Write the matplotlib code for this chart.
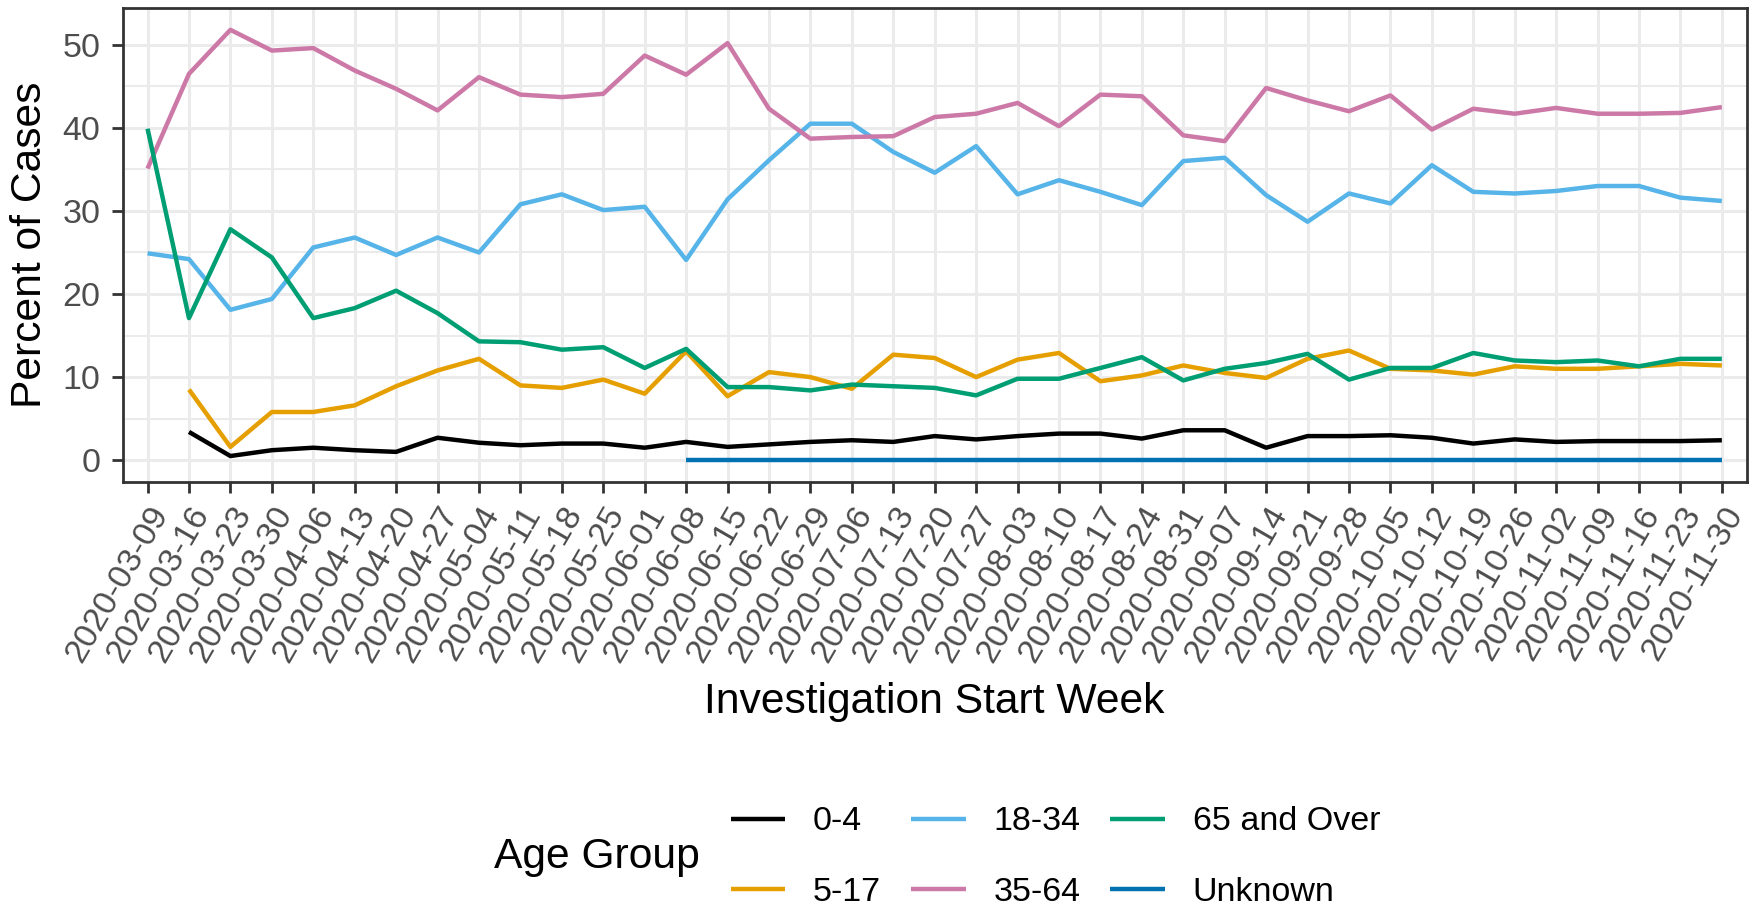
import numpy as np
import matplotlib
matplotlib.use("Agg")
import matplotlib.pyplot as plt

plt.rcParams["font.family"] = ["Liberation Sans", "DejaVu Sans"]

# ── data ──
weeks = [
    "2020-03-09", "2020-03-16", "2020-03-23", "2020-03-30", "2020-04-06",
    "2020-04-13", "2020-04-20", "2020-04-27", "2020-05-04", "2020-05-11",
    "2020-05-18", "2020-05-25", "2020-06-01", "2020-06-08", "2020-06-15",
    "2020-06-22", "2020-06-29", "2020-07-06", "2020-07-13", "2020-07-20",
    "2020-07-27", "2020-08-03", "2020-08-10", "2020-08-17", "2020-08-24",
    "2020-08-31", "2020-09-07", "2020-09-14", "2020-09-21", "2020-09-28",
    "2020-10-05", "2020-10-12", "2020-10-19", "2020-10-26", "2020-11-02",
    "2020-11-09", "2020-11-16", "2020-11-23", "2020-11-30",
]
nan = np.nan
age_0_4 = [nan, 3.4, 0.5, 1.2, 1.5, 1.2, 1.0, 2.7, 2.1, 1.8, 2.0, 2.0, 1.5,
           2.2, 1.6, 1.9, 2.2, 2.4, 2.2, 2.9, 2.5, 2.9, 3.2, 3.2, 2.6, 3.6,
           3.6, 1.5, 2.9, 2.9, 3.0, 2.7, 2.0, 2.5, 2.2, 2.3, 2.3, 2.3, 2.4]
age_5_17 = [nan, 8.5, 1.6, 5.8, 5.8, 6.6, 8.9, 10.8, 12.2, 9.0, 8.7, 9.7, 8.0,
            13.1, 7.7, 10.6, 10.0, 8.6, 12.7, 12.3, 10.0, 12.1, 12.9, 9.5,
            10.2, 11.4, 10.5, 9.9, 12.2, 13.2, 11.0, 10.8, 10.3, 11.3, 11.0,
            11.0, 11.3, 11.6, 11.4]
age_18_34 = [24.9, 24.2, 18.1, 19.4, 25.6, 26.8, 24.7, 26.8, 25.0, 30.8, 32.0,
             30.1, 30.5, 24.1, 31.4, 36.1, 40.5, 40.5, 37.1, 34.6, 37.8, 32.0,
             33.7, 32.3, 30.7, 36.0, 36.4, 31.9, 28.7, 32.1, 30.9, 35.5, 32.3,
             32.1, 32.4, 33.0, 33.0, 31.6, 31.2]
age_35_64 = [35.1, 46.5, 51.8, 49.3, 49.6, 46.9, 44.7, 42.1, 46.1, 44.0, 43.7,
             44.1, 48.7, 46.4, 50.2, 42.3, 38.7, 38.9, 39.0, 41.3, 41.7, 43.0,
             40.2, 44.0, 43.8, 39.1, 38.4, 44.8, 43.3, 42.0, 43.9, 39.8, 42.3,
             41.7, 42.4, 41.7, 41.7, 41.8, 42.5]
age_65_over = [39.9, 17.1, 27.8, 24.4, 17.1, 18.3, 20.4, 17.7, 14.3, 14.2,
               13.3, 13.6, 11.1, 13.4, 8.8, 8.8, 8.4, 9.1, 8.9, 8.7, 7.8, 9.8,
               9.8, 11.1, 12.4, 9.6, 11.0, 11.7, 12.8, 9.7, 11.1, 11.1, 12.9,
               12.0, 11.8, 12.0, 11.3, 12.2, 12.2]
age_unknown = [nan, nan, nan, nan, nan, nan, nan, nan, nan, nan, nan, nan, nan,
               0.0, 0.0, 0.0, 0.0, 0.0, 0.0, 0.0, 0.0, 0.0, 0.0, 0.0, 0.0, 0.0,
               0.0, 0.0, 0.0, 0.0, 0.0, 0.0, 0.0, 0.0, 0.0, 0.0, 0.0, 0.0, 0.0]

groups = ["0-4", "5-17", "18-34", "35-64", "65 and Over", "Unknown"]
series = [age_0_4, age_5_17, age_18_34, age_35_64, age_65_over, age_unknown]
colors = ["#000000", "#E69F00", "#56B4E9", "#CC79A7", "#009E73", "#0072B2"]

# ── figure ──
W, H = 1752, 905
fig = plt.figure(figsize=(W / 100, H / 100), dpi=100)
ax = fig.add_axes([122.7 / W, 1 - 481.7 / H, (1746.7 - 122.7) / W, (481.7 - 8.3) / H])

x = np.arange(len(weeks))
handles = []
for name, vals, col in zip(groups, series, colors):
    h, = ax.plot(x, vals, color=col, lw=3.2, solid_capstyle="butt", label=name, zorder=3)
    handles.append(h)

# ggplot-like limits (discrete 0.6 / continuous 5% expansion)
allv = np.concatenate([np.asarray(s, float) for s in series])
lo, hi = np.nanmin(allv), np.nanmax(allv)
pad = 0.05 * (hi - lo)
ax.set_ylim(lo - pad, hi + pad)
ax.set_xlim(-0.6, len(weeks) - 1 + 0.6)

ax.set_yticks([0, 10, 20, 30, 40, 50])
ax.set_yticks([5, 15, 25, 35, 45], minor=True)
ax.set_xticks(x)
ax.set_xticklabels(weeks, rotation=60, ha="right", va="top", rotation_mode="anchor")

ax.grid(True, which="major", color="#EBEBEB", lw=2.2, zorder=0)
ax.grid(True, which="minor", axis="y", color="#EBEBEB", lw=1.5, zorder=0)
ax.set_axisbelow(True)

for sp in ax.spines.values():
    sp.set_color("#333333")
    sp.set_linewidth(2.0)

ax.tick_params(axis="both", which="major", length=8, width=2.0, color="#333333",
               labelcolor="#4D4D4D", labelsize=24.5)
ax.tick_params(axis="y", which="major", pad=8)
ax.tick_params(axis="x", which="major", pad=6)
ax.tick_params(axis="both", which="minor", length=0)

fig.text(934.7 / W, 1 - 713 / H, "Investigation Start Week", ha="center", va="baseline",
         fontsize=30.7, color="black")
fig.text(30 / W, 1 - 245 / H, "Percent of Cases", ha="center", va="center",
         rotation=90, fontsize=30.7, color="black")

# legend: title on the left, keys in 3 columns x 2 rows
fig.text(494 / W, 1 - 868.3 / H, "Age Group", ha="left", va="baseline",
         fontsize=30.7, color="black")
fig.legend(handles=handles, labels=groups, ncol=3, loc="center left",
           bbox_to_anchor=(730.7 / W, 1 - 857 / H), frameon=False,
           fontsize=24.5, handlelength=1.6, handletextpad=0.82,
           columnspacing=0.88, labelspacing=1.15, borderpad=0, borderaxespad=0)

fig.savefig("out.png", dpi=100)
